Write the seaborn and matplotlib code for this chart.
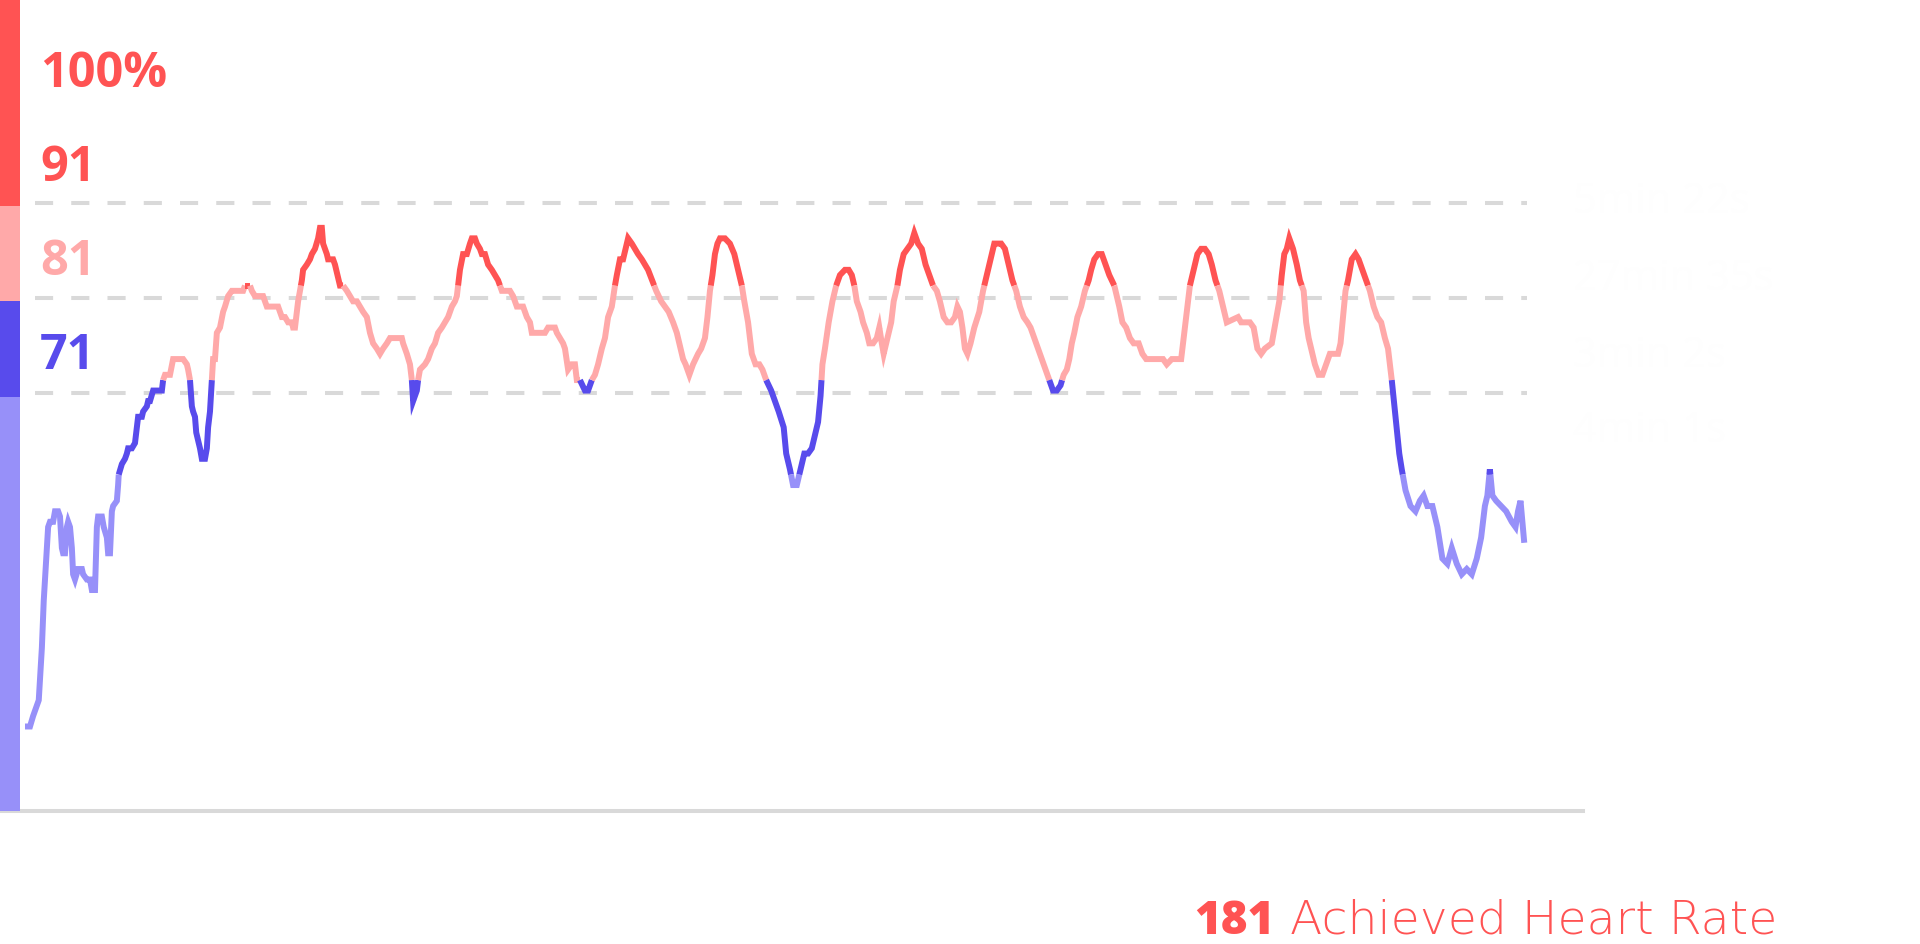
import numpy as np
import pandas as pd
import matplotlib
matplotlib.use("Agg")
import matplotlib.pyplot as plt
import seaborn as sns

# ---------------- data ----------------
max_hr = 181
time_s = [0, 8, 13, 19, 22, 27, 30, 34, 37, 40, 45, 48, 53, 56, 59, 61, 64, 67, 69, 72, 75, 77, 80, 85, 91, 93, 99, 104, 107, 112,
          115, 117, 123, 126, 131, 133, 136, 139, 141, 147, 149, 150, 155, 160, 163, 165, 171, 176, 179, 181, 187, 189, 195, 197, 200,
          205, 219, 221, 224, 232, 237, 253, 259, 261, 264, 267, 269, 272, 274, 280, 283, 288, 291, 293, 296, 299, 301, 304, 307, 312,
          317, 320, 325, 331, 336, 339, 349, 352, 360, 363, 368, 371, 381, 384, 387, 405, 411, 416, 421, 427, 429, 432, 435, 437, 440,
          443, 445, 451, 456, 459, 464, 469, 472, 475, 477, 483, 485, 493, 496, 504, 509, 515, 520, 525, 531, 536, 541, 547, 552, 557,
          563, 568, 573, 579, 584, 589, 603, 605, 611, 616, 619, 621, 627, 629, 632, 640, 645, 651, 656, 661, 667, 672, 677, 680, 683,
          688, 691, 693, 696, 701, 707, 712, 715, 720, 723, 728, 731, 736, 741, 747, 752, 757, 763, 765, 776, 781, 787, 797, 803, 808,
          811, 832, 837, 848, 851, 856, 861, 864, 869, 875, 880, 883, 888, 896, 901, 907, 912, 917, 923, 928, 933, 939, 944, 947, 952,
          957, 965, 971, 976, 981, 987, 992, 997,
          1010, 1018, 1030, 1037, 1043, 1049, 1053, 1057, 1063, 1069, 1077, 1082, 1088, 1092, 1096, 1100, 1104, 1108, 1112, 1120,
          1128, 1135, 1141, 1147, 1151, 1157, 1163, 1169, 1175, 1180, 1186, 1194, 1200, 1206, 1214, 1218, 1224, 1229, 1235, 1241,
          1247, 1253, 1259, 1263, 1269, 1273, 1276, 1280, 1286, 1292, 1298, 1304, 1312, 1318, 1323, 1327, 1331, 1337, 1341, 1347,
          1351, 1357, 1363, 1367, 1371, 1374, 1380, 1386, 1390, 1396, 1400, 1406, 1412, 1418, 1423, 1429, 1435, 1441, 1447, 1453,
          1459, 1464, 1470, 1476, 1482, 1488, 1492, 1496, 1500, 1504, 1508, 1513, 1519, 1527, 1533, 1539, 1545, 1551, 1557, 1562,
          1568, 1574, 1580, 1586, 1592, 1598, 1604, 1609, 1615, 1621, 1627, 1633, 1639, 1645, 1651, 1657, 1662, 1667, 1671, 1675,
          1679, 1684, 1690, 1696, 1702, 1706, 1711, 1717, 1723, 1729, 1735, 1743, 1751, 1756, 1762, 1768, 1774, 1782, 1788, 1794,
          1821, 1827, 1835, 1850, 1856, 1860, 1864, 1870, 1876, 1882, 1888, 1894, 1899, 1905, 1911, 1917, 1923, 1941, 1946, 1960,
          1966, 1972, 1978, 1984, 1995, 2001, 2007, 2011, 2015, 2019, 2023, 2029, 2035, 2040, 2046, 2050, 2054, 2058, 2064, 2070,
          2076, 2082, 2088, 2101, 2105, 2109, 2113, 2117, 2123, 2129, 2134, 2140, 2146, 2152, 2158, 2164, 2170, 2176, 2181, 2187,
          2193, 2199, 2203, 2209, 2217, 2225, 2232, 2238, 2244, 2252, 2260, 2268, 2276, 2283, 2291, 2299, 2307, 2315, 2323, 2330,
          2336, 2340, 2344, 2348, 2354, 2362, 2370, 2379, 2385, 2389, 2393, 2399]
heart_rate = [65, 65, 67, 69, 70, 80, 89, 97, 103, 104, 104, 106, 106, 105, 99, 98, 98, 103, 104, 103, 99, 94, 93, 95, 95, 94, 93, 93, 91, 91,
              103, 105, 105, 103, 101, 98, 98, 106, 107, 108, 111, 113, 115, 116, 117, 118, 118, 119, 122, 124, 124, 125, 126, 127, 127,
              129, 129, 131, 132, 132, 135, 135, 134, 133, 131, 126, 125, 124, 121, 118, 116, 116, 118, 122, 125, 131, 135, 135, 140, 141,
              144, 145, 147, 148, 148, 148, 148, 149, 149, 148, 147, 147, 147, 146, 145, 145, 143, 143, 142, 142, 141, 141, 144, 146, 148,
              150, 152, 153, 154, 155, 156, 158, 160, 160, 157, 155, 154, 154, 153, 149, 149, 148, 147, 146, 146, 145, 144, 143, 140, 138,
              137, 136, 137, 138, 139, 139, 139, 138, 136, 134, 131, 127, 129, 131, 133, 134, 135, 137, 138, 140, 141, 142, 143, 144, 145,
              146, 147, 149, 152, 155, 155, 157, 158, 158, 157, 156, 155, 155, 153, 152, 151, 150, 148, 148, 148, 147, 145, 145, 143, 142,
              140, 140, 141, 141, 140, 139, 138, 137, 133, 134, 134, 131, 131, 129, 129, 131, 132, 134, 137, 139, 143, 145, 149, 151, 154,
              154, 158, 157, 156, 155, 154, 153, 152,
              148, 146, 144, 142, 140, 137, 135, 134, 132, 134, 136, 137, 139, 143, 148, 151, 155, 157, 158, 158,
              157, 155, 152, 149, 146, 142, 136, 134, 134, 133, 131, 129, 127, 125, 122, 117, 114, 111, 111, 114,
              117, 117, 118, 120, 123, 128, 134, 137, 142, 146, 149, 151, 152, 152, 151, 149, 146, 144, 142, 140,
              138, 138, 139, 141, 138, 136, 139, 142, 146, 149, 152, 155, 156, 157, 159, 157, 156, 153, 151, 149,
              148, 146, 143, 142, 142, 143, 145, 144, 141, 137, 136, 138, 141, 144, 148, 151, 154, 157, 157, 157,
              156, 153, 150, 148, 145, 143, 142, 141, 139, 137, 135, 133, 131, 129, 129, 130, 132, 133, 135, 138,
              140, 143, 145, 148, 150, 152, 154, 155, 155, 153, 151, 149, 145, 142, 141, 139, 138, 138, 136, 135,
              135, 134, 135, 135, 141, 145, 149, 152, 155, 156, 156, 155, 153, 150, 148, 145, 142, 143, 142, 142,
              141, 137, 136, 137, 138, 142, 146, 151, 155, 156, 158, 156, 153, 150, 148, 142, 139, 137, 134, 132,
              132, 134, 136, 136, 138, 143, 148, 150, 154, 155, 154, 152, 150, 148, 145, 143, 142, 139, 137, 131,
              124, 117, 114, 110, 107, 106, 108, 109, 107, 107, 103, 97, 96, 99, 96, 94, 95, 94, 97, 101,
              107, 109, 114, 109, 108, 107, 106, 104, 103, 106, 108, 100]

zone_labels = ["100%", "91", "81", "71"]
zone_label_bpm = [187.0, 169.1, 151.2, 133.3]          # baseline of each label
zone_colors = ["#FF5353", "#FFA9A9", "#584BEC", "#9790F9"]   # red, pink, blue, lavender
label_colors = ["#FF5353", "#FF5353", "#FFA9A9", "#584BEC"]
zone_pct_lines = [91, 81, 71]                          # dashed guide lines (% of max)
zone_bar_edges = [210.0, 164.1, 146.0, 127.7, 40.0]    # left colour bar boundaries (bpm)
line_thresholds = [113.0, 131.0, 149.0]                # line colour breaks (bpm)
zone_times = ["5min 22s", "27min 35s", "3min 2s", "4min 1s"]
achieved_value = "181"
achieved_text = "Achieved Heart Rate"

# ---------------- figure ----------------
sns.set_theme(style="white")
plt.rcParams["font.family"] = ["Open Sans", "DejaVu Sans"]

W, H = 1920, 945
fig = plt.figure(figsize=(W / 100, H / 100), dpi=100)
fig.patch.set_facecolor("white")
ax = fig.add_axes([0, 133 / H, 1583 / W, 812 / H])
ax.set_facecolor("white")
ax.set_xlim(-40, 2493)
ax.set_ylim(48.9, 203.6)

# left zone bar
bar_frac = 20 / 1583
for i, col in enumerate(zone_colors):
    ax.axhspan(zone_bar_edges[i + 1], zone_bar_edges[i], xmin=0, xmax=bar_frac,
               color=col, lw=0, zorder=3)

# dashed guide lines
for p in zone_pct_lines:
    ax.plot([16, 2403], [p / 100 * max_hr] * 2, color="#D9D9D9", lw=2.9,
            dashes=(4.5, 4.5), solid_capstyle="butt", dash_capstyle="butt", zorder=1)

# coloured heart-rate line
t = np.asarray(time_s, float)
v = np.asarray(heart_rate, float)
T, V = [t[0]], [v[0]]
for i in range(len(t) - 1):
    a, b = v[i], v[i + 1]
    cs = [c for c in line_thresholds if (a - c) * (b - c) < 0]
    cs.sort(reverse=(b < a))
    for c in cs:
        f = (c - a) / (b - a)
        T.append(t[i] + f * (t[i + 1] - t[i]))
        V.append(c)
    T.append(t[i + 1])
    V.append(b)
T, V = np.array(T), np.array(V)
mid = (V[:-1] + V[1:]) / 2
zone_idx = np.digitize(mid, line_thresholds)       # 0 lavender .. 3 red
line_cols = {3: zone_colors[0], 2: zone_colors[1], 1: zone_colors[2], 0: zone_colors[3]}

start = 0
for k in range(1, len(zone_idx) + 1):
    if k == len(zone_idx) or zone_idx[k] != zone_idx[start]:
        seg = pd.DataFrame({"t": T[start:k + 1], "hr": V[start:k + 1]})
        sns.lineplot(data=seg, x="t", y="hr", ax=ax, color=line_cols[zone_idx[start]],
                     lw=4.3, sort=False, estimator=None, solid_capstyle="butt",
                     solid_joinstyle="miter", zorder=2)
        start = k

# zone labels
for lab, yv, col in zip(zone_labels, zone_label_bpm, label_colors):
    ax.text(24, yv, lab, color=col, fontsize=35, fontweight="bold",
            va="baseline", ha="left", zorder=4)

# axes styling
for s in ["top", "right", "left"]:
    ax.spines[s].set_visible(False)
ax.spines["bottom"].set_color("#D9D9D9")
ax.spines["bottom"].set_linewidth(2.9)
ax.set_xticks([])
ax.set_yticks([])
ax.set_xlabel("")
ax.set_ylabel("")

# near-invisible zone time labels (right side)
for txt, yb in zip(zone_times, [213, 290, 367, 442]):
    fig.text(1573 / W, 1 - yb / H, txt, color="#FEFEFE", fontsize=30,
             va="baseline", ha="left")

# bottom caption
base_y = 1 - 934 / H
t1 = fig.text(1194 / W, base_y, achieved_value, color="#FF5353", fontsize=33,
              fontweight="heavy", va="baseline", ha="left")
fig.canvas.draw()
r = fig.canvas.get_renderer()
bb = t1.get_window_extent(renderer=r)
fig.text((bb.x1 + 16) / W, base_y, achieved_text, color="#FF5353", fontsize=34,
         fontweight="light", family=["DejaVu Sans"], va="baseline", ha="left")

fig.savefig("out.png", dpi=100, facecolor="white")
